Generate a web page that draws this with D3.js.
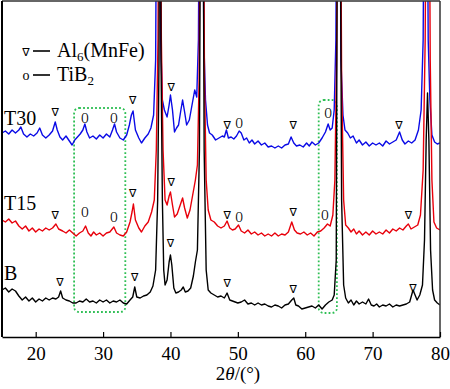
<!DOCTYPE html>
<html><head><meta charset="utf-8">
<script src="https://cdn.jsdelivr.net/npm/d3@7"></script>
<style>
body{margin:0;background:#fff;}
svg{display:block;}
</style></head>
<body><svg id="c" width="450" height="389"></svg>
<script>
// ---------- data ----------
const xTicks = [20, 30, 40, 50, 60, 70, 80];
const seriesNames = ["B", "T15", "T30"];
const seriesColors = ["#000000", "#e8000b", "#0a0ae6"];

// 2θ (deg), intensity (a.u.)
const dataB = [[15.0,47],[15.5,49],[16.0,45],[16.5,48],[17.0,46],[17.5,41],[18.0,37],[18.5,40],[19.0,36],[19.5,39],[20.0,35],[20.5,38],[21.0,36],[21.5,39],[22.0,37],[22.5,39],[23.0,38],[23.4,40],[23.7,46],[24.0,39],[24.5,37],[25.0,36],[25.5,34],[26.0,34],[26.5,36],[27.0,35],[27.5,38],[28.0,35],[28.5,36],[29.0,34],[29.5,37],[30.0,35],[30.5,37],[31.0,34],[31.5,36],[32.0,35],[32.5,37],[33.0,34],[33.5,33],[34.0,37],[34.4,40],[34.7,50],[35.0,40],[35.5,39],[36.0,41],[36.5,42],[37.0,45],[37.4,51],[37.8,67],[38.1,137],[38.3,277],[38.45,600],[38.6,277],[38.8,137],[39.0,67],[39.2,52],[39.5,57],[39.8,75],[40.0,82],[40.2,72],[40.5,49],[40.8,44],[41.2,45],[41.6,47],[41.9,50],[42.2,45],[42.6,46],[43.0,49],[43.4,61],[43.7,75],[44.0,87],[44.3,187],[44.55,600],[44.75,600],[45.0,187],[45.3,67],[45.6,47],[46.0,44],[46.5,42],[47.0,40],[47.5,41],[48.0,39],[48.4,44],[48.8,37],[49.2,36],[49.6,35],[50.0,34],[50.5,35],[51.0,37],[51.5,33],[52.0,34],[52.5,32],[53.0,34],[53.5,32],[54.0,33],[54.5,31],[55.0,30],[55.5,32],[56.0,31],[56.5,29],[57.0,32],[57.5,33],[58.0,37],[58.3,39],[58.6,32],[59.0,31],[59.5,28],[60.0,29],[60.5,30],[61.0,31],[61.5,29],[62.0,32],[62.5,28],[63.0,32],[63.5,35],[64.0,37],[64.3,42],[64.6,77],[64.85,600],[65.1,600],[65.4,137],[65.7,52],[66.0,39],[66.4,34],[66.8,37],[67.2,32],[67.6,36],[68.0,33],[68.5,35],[69.0,33],[69.4,38],[69.8,32],[70.2,31],[70.6,33],[71.0,30],[71.5,32],[72.0,31],[72.5,33],[73.0,30],[73.5,32],[74.0,31],[74.5,32],[75.0,33],[75.5,35],[76.0,47],[76.3,42],[76.6,37],[77.0,42],[77.4,52],[77.7,97],[77.95,197],[78.15,244],[78.35,197],[78.6,87],[78.9,47],[79.2,37],[79.6,34],[80.0,32]];

const dataT15 = [[15.0,117],[15.5,115],[16.0,118],[16.5,114],[17.0,116],[17.5,111],[18.0,108],[18.5,111],[19.0,106],[19.5,109],[20.0,105],[20.5,108],[21.0,106],[21.5,109],[22.0,107],[22.5,109],[23.0,113],[23.4,108],[24.0,106],[24.5,104],[25.0,107],[25.5,104],[26.0,101],[26.5,104],[27.0,106],[27.4,111],[27.8,104],[28.2,101],[28.6,105],[29.0,102],[29.5,104],[30.0,101],[30.5,104],[31.0,105],[31.6,110],[32.0,104],[32.5,102],[33.0,101],[33.5,105],[34.0,115],[34.3,125],[34.5,133],[34.8,117],[35.3,109],[35.7,105],[36.2,111],[36.7,115],[37.2,125],[37.6,137],[37.9,187],[38.15,297],[38.4,600],[38.65,297],[38.9,187],[39.2,137],[39.5,132],[39.8,141],[40.0,145],[40.3,132],[40.6,120],[41.0,123],[41.4,131],[41.8,139],[42.1,129],[42.5,119],[42.9,127],[43.3,142],[43.7,157],[44.0,172],[44.25,257],[44.5,600],[44.8,600],[45.05,257],[45.3,157],[45.6,127],[46.0,117],[46.5,115],[47.0,111],[47.5,109],[48.0,111],[48.4,116],[48.8,109],[49.2,107],[49.6,108],[50.1,112],[50.5,106],[51.0,104],[51.5,107],[52.0,103],[52.5,105],[53.0,102],[53.5,104],[54.0,101],[54.5,103],[55.0,101],[55.5,104],[56.0,101],[56.5,103],[57.0,102],[57.5,105],[58.0,115],[58.4,107],[58.8,104],[59.3,103],[59.8,105],[60.3,102],[60.8,104],[61.3,101],[61.8,105],[62.3,106],[62.8,109],[63.3,113],[63.7,111],[64.1,122],[64.4,157],[64.65,277],[64.9,600],[65.15,600],[65.4,257],[65.7,137],[66.0,112],[66.4,109],[66.8,105],[67.2,108],[67.6,103],[68.0,106],[68.5,102],[69.0,105],[69.5,102],[70.0,106],[70.5,103],[71.0,105],[71.5,103],[72.0,107],[72.5,104],[73.0,108],[73.5,106],[74.0,109],[74.5,107],[75.0,111],[75.3,113],[75.7,108],[76.2,110],[76.7,112],[77.1,122],[77.5,167],[77.8,297],[78.05,600],[78.3,600],[78.55,277],[78.8,157],[79.1,115],[79.5,109],[80.0,107]];

const dataT30 = [[15.0,204],[15.5,206],[16.0,203],[16.5,207],[17.0,204],[17.5,207],[17.8,210],[18.2,203],[18.7,200],[19.2,203],[19.7,201],[20.2,204],[20.6,209],[21.0,202],[21.5,199],[22.0,202],[22.5,206],[22.9,215],[23.2,207],[23.6,200],[24.0,197],[24.5,201],[25.0,196],[25.4,192],[25.8,197],[26.2,200],[26.6,203],[27.0,207],[27.3,213],[27.6,205],[28.0,199],[28.5,201],[29.0,198],[29.5,202],[30.0,199],[30.5,203],[31.0,200],[31.4,207],[31.7,213],[32.0,205],[32.5,199],[33.0,197],[33.5,202],[33.9,212],[34.2,222],[34.45,226],[34.8,207],[35.3,199],[35.7,194],[36.2,199],[36.7,203],[37.1,209],[37.5,222],[37.8,277],[38.05,600],[38.3,600],[38.55,297],[38.8,237],[39.1,227],[39.5,220],[39.8,232],[40.0,242],[40.3,227],[40.6,205],[40.9,209],[41.2,212],[41.5,225],[41.8,237],[42.1,225],[42.4,212],[42.8,217],[43.2,232],[43.6,247],[43.9,240],[44.15,297],[44.4,600],[44.7,600],[44.95,297],[45.2,237],[45.5,212],[45.8,204],[46.2,202],[46.7,197],[47.2,199],[47.7,201],[48.0,200],[48.3,207],[48.6,199],[49.0,200],[49.4,198],[49.8,201],[50.2,206],[50.5,204],[50.9,197],[51.3,199],[51.7,194],[52.1,197],[52.5,193],[53.0,196],[53.5,192],[54.0,194],[54.5,190],[55.0,191],[55.5,189],[56.0,191],[56.5,189],[57.0,192],[57.5,193],[57.9,200],[58.3,194],[58.7,191],[59.2,192],[59.7,190],[60.2,194],[60.6,191],[61.0,195],[61.5,192],[62.0,194],[62.5,199],[63.0,205],[63.4,213],[63.7,207],[64.0,209],[64.3,227],[64.55,297],[64.8,600],[65.05,600],[65.3,277],[65.6,222],[65.9,207],[66.3,204],[66.7,199],[67.1,201],[67.6,194],[68.0,197],[68.5,192],[69.0,195],[69.5,191],[70.0,194],[70.5,192],[71.0,194],[71.5,191],[72.0,196],[72.5,193],[73.0,195],[73.5,197],[74.0,205],[74.4,197],[74.8,193],[75.3,196],[75.8,194],[76.3,197],[76.8,207],[77.2,227],[77.5,297],[77.75,600],[78.0,600],[78.25,297],[78.5,237],[78.8,202],[79.2,195],[79.6,193],[80.0,194]];

// phase markers: [2θ, intensity, phase] ; phase "A" = Al6(MnFe), "T" = TiB2
const marksT30 = [[22.9,225,"A"],[27.3,219,"T"],[31.6,219,"T"],[34.4,237,"A"],[40.1,250,"A"],[48.4,212,"A"],[50.2,214,"T"],[58.2,212,"A"],[63.4,224,"T"],[73.9,212,"A"]];
const marksT15 = [[22.9,122,"A"],[27.3,125,"T"],[31.6,120,"T"],[34.4,144,"A"],[40.1,155,"A"],[48.4,122,"A"],[50.2,120,"T"],[58.2,125,"A"],[62.9,122,"T"],[75.3,122,"A"]];
const marksB = [[23.6,55,"A"],[34.7,60,"A"],[40.0,94,"A"],[48.4,54,"A"],[58.2,48,"A"],[76.0,49,"A"]];

// highlighted regions: [2θ start, 2θ end, intensity low, intensity high]
const boxes = [[25.7,33.3,25,229],[62.0,64.7,24,237]];

const legendItems = [["A","Al","6","(MnFe)"],["T","TiB","2",""]];
const labelItems = [["T30",212],["T15",127],["B",57]];

// ---------- chart ----------
const SERIF = "'Liberation Serif', Tinos, 'Times New Roman', 'DejaVu Serif', serif";
const W = 450, H = 389;
const L = 2, R = 440, T = 1, B = 337;
const svg = d3.select("#c");
const x = d3.scaleLinear().domain([15, 80]).range([L, R]);
const y = d3.scaleLinear().domain([0, 336]).range([B, T]);

svg.append("defs").append("clipPath").attr("id","clip")
  .append("rect").attr("x",L).attr("y",T).attr("width",R-L).attr("height",B-T);

// green dotted boxes
svg.append("g").selectAll("rect").data(boxes).join("rect")
  .attr("x", d=>x(d[0])).attr("width", d=>x(d[1])-x(d[0]))
  .attr("y", d=>y(d[3])).attr("height", d=>y(d[2])-y(d[3]))
  .attr("rx",5).attr("ry",5)
  .attr("fill","none").attr("stroke","#2fbf55").attr("stroke-width",1.8)
  .attr("stroke-dasharray","1.8,2.2");

const line = d3.line().x(d=>x(d[0])).y(d=>y(d[1]));
const gLines = svg.append("g").attr("clip-path","url(#clip)");
[[dataT30, seriesColors[2]], [dataT15, seriesColors[1]], [dataB, seriesColors[0]]].forEach(([d,c])=>{
  gLines.append("path").datum(d).attr("d",line)
    .attr("fill","none").attr("stroke",c).attr("stroke-width",1.4)
    .attr("stroke-linejoin","round");
});

// markers
function tri(g, cx, cy){
  g.append("text").attr("x",cx).attr("y",cy)
    .attr("text-anchor","middle").attr("dominant-baseline","central")
    .attr("class","sym")
    .style("font-family","'DejaVu Sans',sans-serif").style("font-size","11px").text("∇");
}
function drawMarks(arr){
  const g = svg.append("g");
  arr.forEach(m=>{
    if(m[2]==="A"){
      tri(g, x(m[0]), y(m[1]));
    } else {
      g.append("text").attr("transform",`translate(${x(m[0])},${y(m[1])}) scale(0.72,1)`)
        .attr("text-anchor","middle").attr("dominant-baseline","central")
        .style("font-family",SERIF).style("font-size","14px").text("O");
    }
  });
}
drawMarks(marksT30); drawMarks(marksT15); drawMarks(marksB);

// frame
svg.append("line").attr("x1",L).attr("x2",R).attr("y1",T).attr("y2",T).attr("stroke","#333").attr("stroke-width",1.5);
svg.append("line").attr("x1",R).attr("x2",R).attr("y1",T).attr("y2",B).attr("stroke","#333").attr("stroke-width",1.5);
svg.append("line").attr("x1",L).attr("x2",L).attr("y1",T).attr("y2",B).attr("stroke","#000").attr("stroke-width",2);

// x axis
const ax = svg.append("g").attr("transform",`translate(0,${B})`)
  .call(d3.axisBottom(x).tickValues(xTicks).tickSizeInner(-5).tickSizeOuter(0).tickPadding(10));
ax.attr("font-family", null).attr("font-size", null);
ax.select(".domain").attr("stroke","#000").attr("stroke-width",1.5);
ax.selectAll(".tick line").attr("stroke","#000").attr("stroke-width",1.2);
ax.selectAll(".tick text").style("font-family",SERIF).style("font-size","19px").attr("fill","#000");

// x title
const xt = svg.append("text").attr("x",238).attr("y",380).attr("text-anchor","middle")
  .style("font-family",SERIF).style("font-size","19px");
xt.append("tspan").text("2");
xt.append("tspan").style("font-style","italic").text("θ");
xt.append("tspan").text("/(°)");

// series labels
labelItems.forEach(l=>{
  svg.append("text").attr("x",4).attr("y",y(l[1]))
    .style("font-family",SERIF).style("font-size","20px").text(l[0]);
});

// legend
legendItems.forEach((it,i)=>{
  const yb = 57 + i*24;
  if(it[0]==="A"){
    tri(svg, 26, yb-5);
  } else {
    svg.append("text").attr("x",26).attr("y",yb-1).attr("text-anchor","middle")
      .style("font-family",SERIF).style("font-size","14px").text("o");
  }
  svg.append("line").attr("x1",33).attr("x2",50).attr("y1",yb-6).attr("y2",yb-6)
    .attr("stroke","#000").attr("stroke-width",1.6);
  const t = svg.append("text").attr("x",57).attr("y",yb)
    .style("font-family",SERIF).style("font-size","20px");
  t.append("tspan").text(it[1]);
  t.append("tspan").attr("dy",4).style("font-size","13px").text(it[2]);
  if(it[3]) t.append("tspan").attr("dy",-4).text(it[3]);
});
</script></body></html>
